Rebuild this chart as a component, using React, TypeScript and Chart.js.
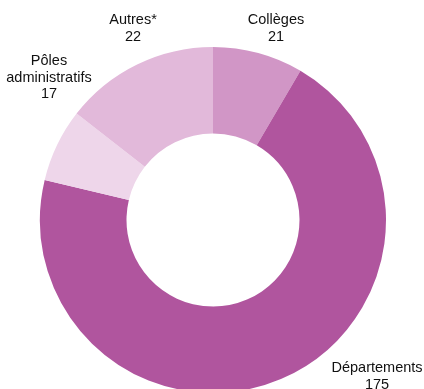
import React, { useEffect, useRef } from "react";
import { Chart, registerables } from "chart.js";

Chart.register(...registerables);

const categories = ["Collèges", "Départements", "Pôles administratifs", "Autres*"];
// values printed in the labels
const labelValues = ["21", "175", "17", "22"];
// slice sizes as drawn in the picture (arc angles measured)
const sliceValues = [21, 175, 17, 36];
const colors = ["#d196c6", "#b0559e", "#eed6ea", "#e2b9da"];
const labelNames = [["Collèges"], ["Départements"], ["Pôles", "administratifs"], ["Autres*"]];

const labelAnchors = [
  { x: 276, y: 20 },
  { x: 377, y: 368 },
  { x: 49, y: 61 },
  { x: 133, y: 20 },
];

const labelPlugin = {
  id: "outerLabels",
  afterDraw(chart: any) {
    const ctx = chart.ctx;
    ctx.save();
    ctx.fillStyle = "#111111";
    ctx.font = "14.5px 'Liberation Sans', Arial, sans-serif";
    ctx.textAlign = "center";
    ctx.textBaseline = "middle";
    labelNames.forEach((names, i) => {
      const a = labelAnchors[i];
      const lines = [...names, labelValues[i]];
      lines.forEach((t, j) => {
        ctx.fillText(t, a.x, a.y + j * 16.5);
      });
    });
    ctx.restore();
  },
};

export default function App() {
  const ref = useRef<HTMLCanvasElement>(null);
  useEffect(() => {
    document.body.style.margin = "0";
    document.body.style.overflow = "hidden";
    const chart = new Chart(ref.current!, {
      type: "doughnut",
      data: {
        labels: categories,
        datasets: [
          {
            data: sliceValues,
            backgroundColor: colors,
            borderWidth: 0,
          },
        ],
      },
      options: {
        animation: false,
        responsive: false,
        cutout: "50%",
        layout: { padding: { left: 40, right: 38, top: 47, bottom: 7 } },
        plugins: {
          legend: { display: false },
          tooltip: { enabled: false },
        },
      },
      plugins: [labelPlugin],
    });
    return () => chart.destroy();
  }, []);
  return (
    <div style={{ position: "absolute", left: 0, top: 0, width: 424, height: 389, overflow: "hidden", background: "#fff" }}>
      <canvas ref={ref} width={424} height={400} style={{ display: "block" }} />
    </div>
  );
}
